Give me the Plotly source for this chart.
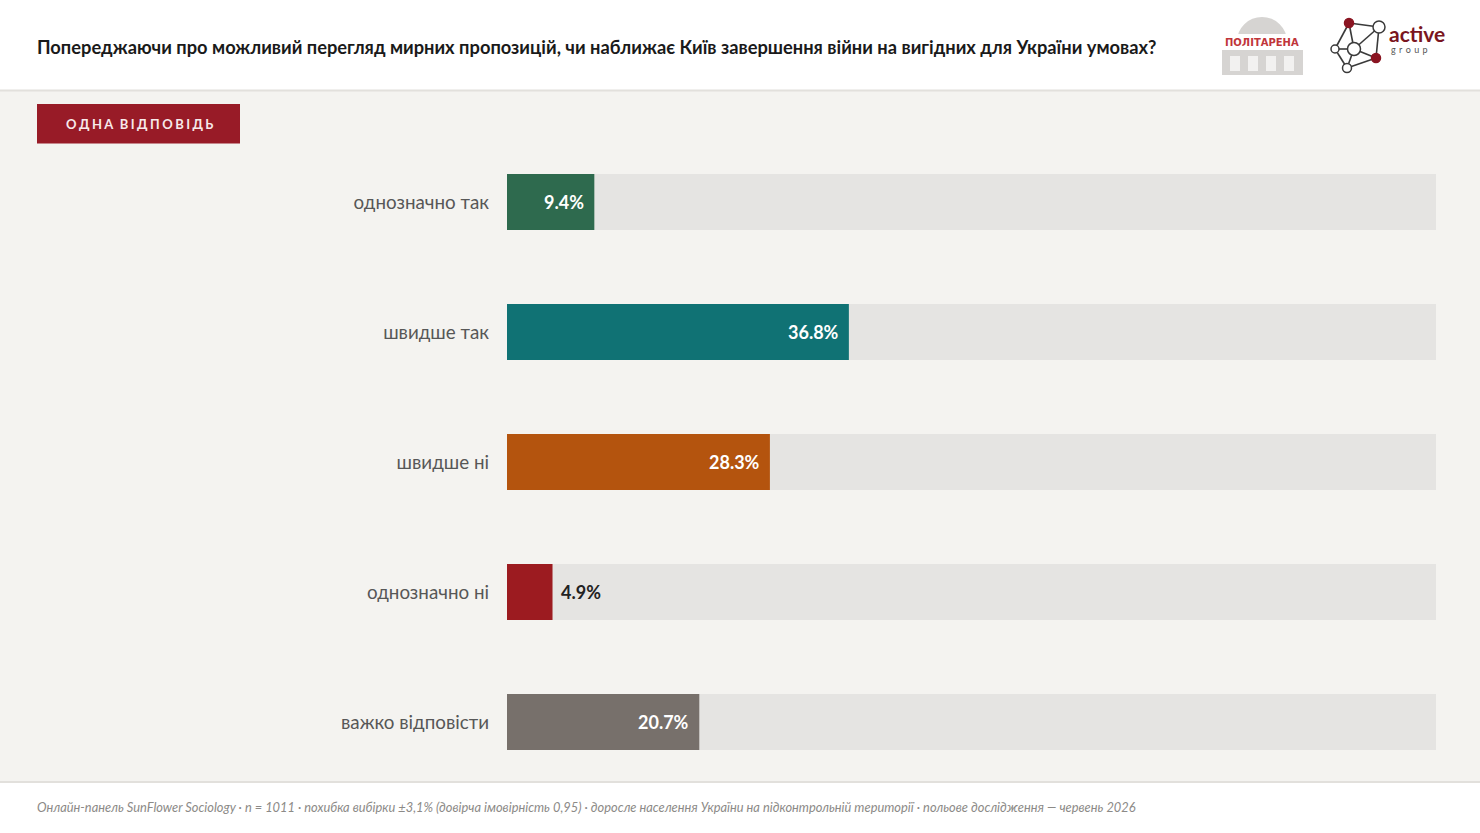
import plotly.graph_objects as go

W, H = 1480, 833

categories = ["однозначно так", "швидше так", "швидше ні", "однозначно ні", "важко відповісти"]
values = [9.4, 36.8, 28.3, 4.9, 20.7]
bar_colors = ["#2e6a4e", "#107274", "#b4540e", "#9c1b20", "#77706b"]
value_labels = ["9.4%", "36.8%", "28.3%", "4.9%", "20.7%"]
label_inside = [True, True, True, False, True]
track_max = 100

title = "Попереджаючи про можливий перегляд мирних пропозицій, чи наближає Київ завершення війни на вигідних для України умовах?"
badge = "ОДНА ВІДПОВІДЬ"
footer = ("Онлайн-панель SunFlower Sociology · n = 1011 · похибка вибірки ±3,1% (довірча імовірність 0,95) · "
          "доросле населення України на підконтрольній території · польове дослідження — червень 2026")

FONT = "Lato"


def px(x):
    return x / W


def py(y):
    return 1 - y / H


fig = go.Figure()

fig.add_trace(go.Bar(
    y=categories, x=[track_max] * len(categories), orientation="h",
    marker=dict(color="#e5e4e2", line=dict(width=0)), width=0.43,
    hoverinfo="skip", showlegend=False,
))
fig.add_trace(go.Bar(
    y=categories, x=values, orientation="h",
    marker=dict(color=bar_colors, line=dict(width=0)), width=0.43,
    showlegend=False,
))

annotations = []
for cat, v, lab, inside in zip(categories, values, value_labels, label_inside):
    annotations.append(dict(
        x=v, y=cat, xref="x", yref="y", text="<b>" + lab + "</b>", showarrow=False,
        xanchor="right" if inside else "left", xshift=-8 if inside else 6,
        font=dict(family=FONT, size=18, color="#ffffff" if inside else "#222222"),
    ))

# title
annotations.append(dict(x=px(35), y=py(47), xref="paper", yref="paper", xanchor="left", yanchor="middle",
                        text="<b>" + title + "</b>", showarrow=False,
                        font=dict(family=FONT, size=18.3, color="#1a1a1a")))
# badge
sp = "\u2009"
hs = "\u200a"
badge_txt = (sp + hs).join(badge).replace(sp + hs + " " + sp + hs, sp * 4)
annotations.append(dict(x=px(139), y=py(124), xref="paper", yref="paper", xanchor="center", yanchor="middle",
                        text="<b>" + badge_txt + "</b>",
                        showarrow=False, font=dict(family=FONT, size=13, color="#f7e9ea")))
# footer
annotations.append(dict(x=px(35), y=py(807), xref="paper", yref="paper", xanchor="left", yanchor="middle",
                        text="<i>" + footer + "</i>", showarrow=False,
                        font=dict(family=FONT, size=12.85, color="#8c8a87")))

# logos text
annotations.append(dict(x=px(1262), y=py(42), xref="paper", yref="paper", xanchor="center", yanchor="middle",
                        text="<b>ПОЛІТАРЕНА</b>", showarrow=False,
                        font=dict(family="DejaVu Sans", size=10, color="#c0353a")))
annotations.append(dict(x=px(1387), y=py(33), xref="paper", yref="paper", xanchor="left", yanchor="middle",
                        text="<b>active</b>", showarrow=False,
                        font=dict(family=FONT, size=21, color="#7a1520")))
annotations.append(dict(x=px(1389), y=py(49), xref="paper", yref="paper", xanchor="left", yanchor="middle",
                        text=(sp * 3).join("group"), showarrow=False,
                        font=dict(family=FONT, size=9, color="#555555")))

shapes = []
# header white band + separator
shapes.append(dict(type="rect", xref="paper", yref="paper", x0=0, x1=1, y0=py(90), y1=1,
                   fillcolor="#ffffff", line=dict(width=0), layer="below"))
shapes.append(dict(type="line", xref="paper", yref="paper", x0=0, x1=1, y0=py(90.5), y1=py(90.5),
                   line=dict(color="#e2e0dc", width=2)))
# footer white band + separator
shapes.append(dict(type="rect", xref="paper", yref="paper", x0=0, x1=1, y0=0, y1=py(782),
                   fillcolor="#ffffff", line=dict(width=0), layer="below"))
shapes.append(dict(type="line", xref="paper", yref="paper", x0=0, x1=1, y0=py(782), y1=py(782),
                   line=dict(color="#e2e0dc", width=2)))
# badge
shapes.append(dict(type="rect", xref="paper", yref="paper", x0=px(37), x1=px(240), y0=py(143.5), y1=py(104),
                   fillcolor="#981b27", line=dict(width=0)))

# Politarena logo (building)
grey = "#d6d4d2"
shapes.append(dict(type="circle", xref="paper", yref="paper", x0=px(1237), x1=px(1287), y0=py(66), y1=py(17),
                   fillcolor=grey, line=dict(width=0)))
shapes.append(dict(type="rect", xref="paper", yref="paper", x0=px(1220), x1=px(1304), y0=py(50), y1=py(34),
                   fillcolor="#ffffff", line=dict(width=0)))
shapes.append(dict(type="rect", xref="paper", yref="paper", x0=px(1222), x1=px(1303), y0=py(75), y1=py(50),
                   fillcolor=grey, line=dict(width=0)))
for cx in [1230, 1248, 1266, 1284]:
    shapes.append(dict(type="rect", xref="paper", yref="paper", x0=px(cx), x1=px(cx + 10), y0=py(71), y1=py(56),
                       fillcolor="#f2f1f0", line=dict(width=0)))

# active group logo (network)
nodes = {"tl": (1349, 23, 4.5, True), "tr": (1379, 27, 6, False), "c": (1354, 49, 6.5, False),
         "l": (1335, 49, 4, False), "r": (1376, 58, 4.5, True), "b": (1347, 68, 4.5, False)}
edges = [("tl", "tr"), ("tl", "l"), ("tl", "c"), ("tr", "c"), ("tr", "r"), ("l", "c"),
         ("c", "b"), ("b", "r"), ("l", "b"), ("c", "r")]
for a, b in edges:
    xa, ya = nodes[a][:2]
    xb, yb = nodes[b][:2]
    shapes.append(dict(type="line", xref="paper", yref="paper", x0=px(xa), x1=px(xb), y0=py(ya), y1=py(yb),
                       line=dict(color="#3a3a3a", width=1.6)))
for k, (cx, cy, r, filled) in nodes.items():
    shapes.append(dict(type="circle", xref="paper", yref="paper", x0=px(cx - r), x1=px(cx + r),
                       y0=py(cy + r), y1=py(cy - r),
                       fillcolor="#8a1522" if filled else "#ffffff",
                       line=dict(color="#8a1522" if filled else "#3a3a3a", width=1.5)))

fig.update_layout(
    width=W, height=H,
    margin=dict(l=0, r=0, t=0, b=0),
    paper_bgcolor="#f4f3f0", plot_bgcolor="rgba(0,0,0,0)",
    barmode="overlay",
    xaxis=dict(domain=[px(507), px(1436)], range=[0, track_max], visible=False, fixedrange=True),
    yaxis=dict(domain=[py(787), py(137)], type="category", categoryorder="array", categoryarray=categories,
               range=[len(categories) - 0.5, -0.5], showgrid=False, zeroline=False, showline=False,
               ticks="", ticklabelstandoff=17,
               tickfont=dict(family=FONT, size=18.8, color="#575757"), fixedrange=True),
    annotations=annotations, shapes=shapes,
    font=dict(family=FONT),
    showlegend=False,
)

fig.write_html("out.html", config=dict(displayModeBar=False),
               post_script="document.body.style.margin='0';document.body.style.overflow='hidden';")
